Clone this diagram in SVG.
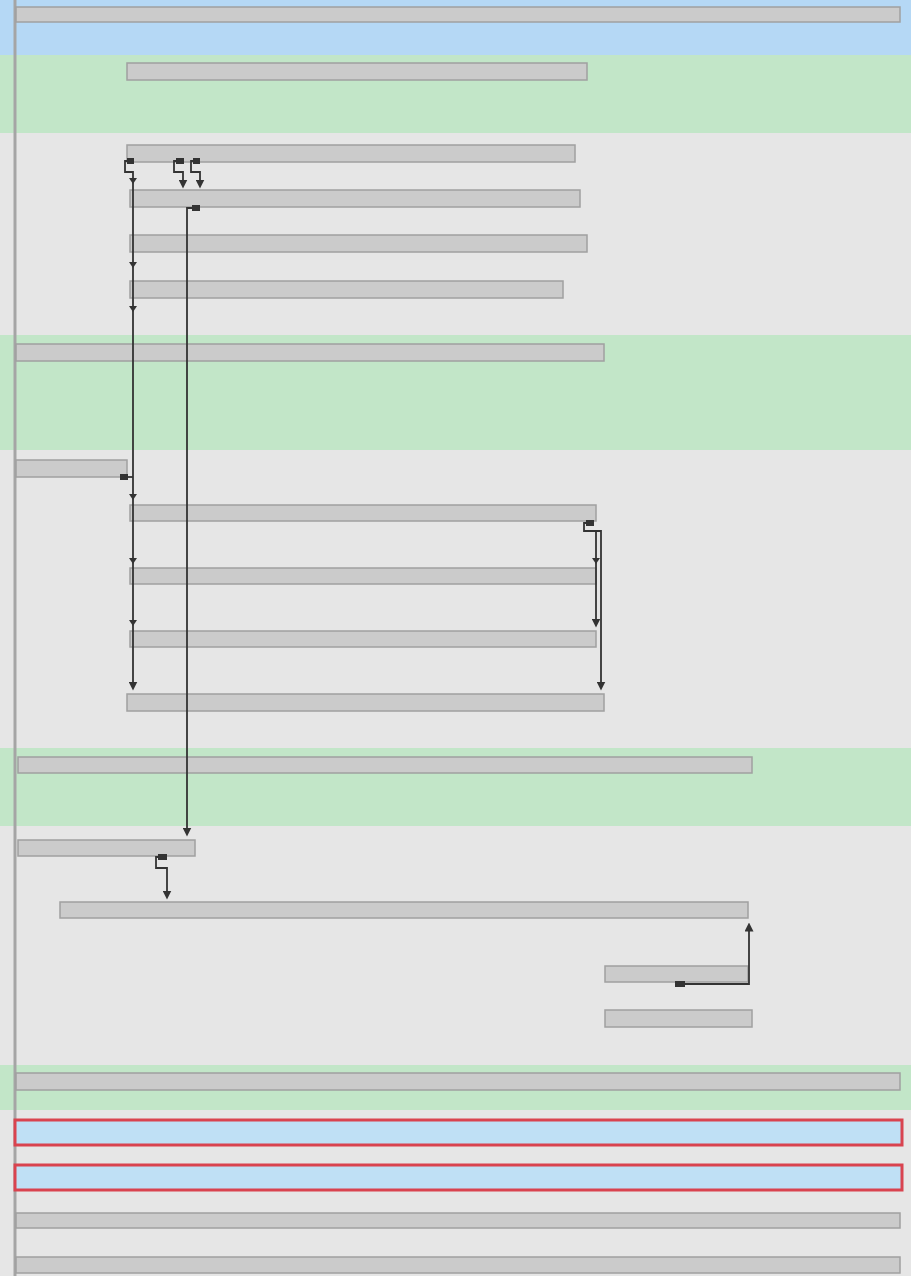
<svg xmlns="http://www.w3.org/2000/svg" width="911" height="1276" viewBox="0 0 911 1276">
<defs>
<style>
.bar{fill:#cbcbcb;stroke:#a0a0a0;stroke-width:1.5}
.band-g{fill:#c2e6c8}
.band-b{fill:#b5d8f5}
.sel{fill:#bfe0f5;stroke:#d9434f;stroke-width:3}
.conn{fill:none;stroke:#333;stroke-width:1.8}
.sq{fill:#333}
.tick{fill:#333}
</style>
<marker id="ar" viewBox="0 0 8 8" refX="4" refY="4" markerWidth="5" markerHeight="5" orient="auto"><path d="M0,0L8,4L0,8z" fill="#333"/></marker>
</defs>
<rect x="0" y="0" width="911" height="1276" fill="#e6e6e6"/>
<g id="bands">
<rect class="band-b" x="0" y="0" width="911" height="55"/>
<rect class="band-g" x="0" y="55" width="911" height="78"/>
<rect class="band-g" x="0" y="335" width="911" height="115"/>
<rect class="band-g" x="0" y="748" width="911" height="78"/>
<rect class="band-g" x="0" y="1065" width="911" height="45"/>
</g>
<line x1="15" y1="0" x2="15" y2="1276" stroke="#a5a5a5" stroke-width="3"/>
<g id="n1"><rect class="bar" x="16" y="7" width="884" height="15"/></g>
<g id="n2"><rect class="bar" x="127" y="63" width="460" height="17"/></g>
<g id="n3"><rect class="bar" x="127" y="145" width="448" height="17"/></g>
<g id="n4"><rect class="bar" x="130" y="190" width="450" height="17"/></g>
<g id="n5"><rect class="bar" x="130" y="235" width="457" height="17"/></g>
<g id="n6"><rect class="bar" x="130" y="281" width="433" height="17"/></g>
<g id="n7"><rect class="bar" x="16" y="344" width="588" height="17"/></g>
<g id="n8"><rect class="bar" x="16" y="460" width="111" height="17"/></g>
<g id="n9"><rect class="bar" x="130" y="505" width="466" height="16"/></g>
<g id="n10"><rect class="bar" x="130" y="568" width="466" height="16"/></g>
<g id="n11"><rect class="bar" x="130" y="631" width="466" height="16"/></g>
<g id="n12"><rect class="bar" x="127" y="694" width="477" height="17"/></g>
<g id="n13"><rect class="bar" x="18" y="757" width="734" height="16"/></g>
<g id="n14"><rect class="bar" x="18" y="840" width="177" height="16"/></g>
<g id="n15"><rect class="bar" x="60" y="902" width="688" height="16"/></g>
<g id="n16"><rect class="bar" x="605" y="966" width="143" height="16"/></g>
<g id="n17"><rect class="bar" x="605" y="1010" width="147" height="17"/></g>
<g id="n18"><rect class="bar" x="16" y="1073" width="884" height="17"/></g>
<g id="n19"><rect class="sel" x="15" y="1120" width="887" height="25"/></g>
<g id="n20"><rect class="sel" x="15" y="1165" width="887" height="25"/></g>
<g id="n21"><rect class="bar" x="16" y="1213" width="884" height="15"/></g>
<g id="n22"><rect class="bar" x="16" y="1257" width="884" height="16"/></g>
<g id="connectors">
<rect class="sq" x="127" y="158" width="7" height="6"/>
<path class="conn" d="M130,161 H125 V172 H133 V686" marker-end="url(#ar)"/>
<polygon class="tick" points="129,178 137,178 133,184"/>
<polygon class="tick" points="129,262 137,262 133,268"/>
<polygon class="tick" points="129,306 137,306 133,312"/>
<polygon class="tick" points="129,494 137,494 133,500"/>
<polygon class="tick" points="129,558 137,558 133,564"/>
<polygon class="tick" points="129,620 137,620 133,626"/>
<rect class="sq" x="176" y="158" width="8" height="6"/>
<path class="conn" d="M180,161 H174 V172 H183 V184" marker-end="url(#ar)"/>
<rect class="sq" x="193" y="158" width="7" height="6"/>
<path class="conn" d="M196,161 H191 V172 H200 V184" marker-end="url(#ar)"/>
<rect class="sq" x="192" y="205" width="8" height="6"/>
<path class="conn" d="M196,208 H187 V832" marker-end="url(#ar)"/>
<rect class="sq" x="120" y="474" width="8" height="6"/>
<path class="conn" d="M124,477 H133"/>
<rect class="sq" x="586" y="520" width="8" height="6"/>
<path class="conn" d="M589,523 H584 V531 H601 V686" marker-end="url(#ar)"/>
<path class="conn" d="M596,531 V623" marker-end="url(#ar)"/>
<polygon class="tick" points="592,558 600,558 596,564"/>
<rect class="sq" x="158" y="854" width="9" height="6"/>
<path class="conn" d="M162,857 H156 V868 H167 V895" marker-end="url(#ar)"/>
<rect class="sq" x="675" y="981" width="10" height="6"/>
<path class="conn" d="M680,984 H749 V927" marker-end="url(#ar)"/>
</g>
</svg>
